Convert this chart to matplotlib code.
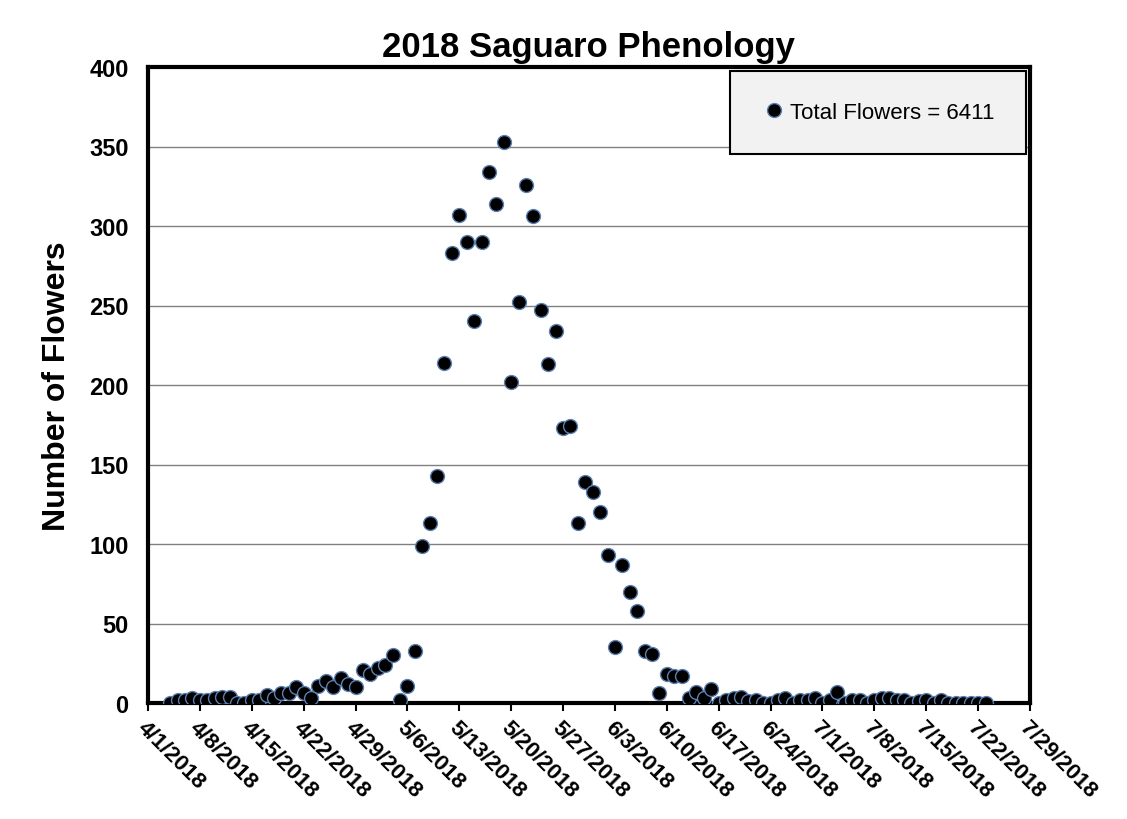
import matplotlib
matplotlib.use("Agg")
import matplotlib.pyplot as plt
import matplotlib.transforms as mtransforms
import numpy as np
import datetime as dt

# Daily flower counts, 4/4/2018 .. 7/23/2018
start_date = dt.date(2018, 4, 4)
flowers = [
    0, 2, 2, 3, 2, 2, 3, 4, 4, 0, 0, 2, 2, 5, 3, 6, 6, 10, 6, 3, 11, 14, 10, 16,
    12, 10, 21, 18, 22, 24, 30, 2, 11, 33,
    99, 113, 143, 214, 283, 307, 290, 240, 290, 334, 314, 353, 202, 252, 326, 306,
    247, 213, 234, 173, 174, 113, 139, 133, 120, 93, 35, 87, 70, 58, 33, 31,
    6, 18, 17, 17, 3, 7, 3, 9, 0, 2, 3, 4, 1, 2, 0, 0, 2, 3, 0, 2, 2, 3, 0, 2, 7,
    0, 2, 2, 0, 2, 3, 3, 2, 2, 0, 1, 2, 0, 2, 0, 0, 0, 0, 0, 0,
]
dates = [start_date + dt.timedelta(days=i) for i in range(len(flowers))]
tick_dates = [dt.date(2018, 4, 1) + dt.timedelta(days=7 * i) for i in range(18)]
legend_label = "Total Flowers = 6411"

plt.rcParams["font.family"] = "Liberation Sans"

fig = plt.figure(figsize=(11.27, 8.2), dpi=100)
ax = fig.add_axes([148 / 1127, 1 - 704 / 820, 882 / 1127, 636 / 820])

ax.plot(dates, flowers, linestyle="none", marker="o", markersize=10,
        markerfacecolor="black", markeredgecolor="#5a7fb0", markeredgewidth=1,
        label=legend_label, zorder=3)

ax.set_xlim(tick_dates[0], tick_dates[-1])
ax.set_ylim(0, 400)
ax.set_yticks(np.arange(0, 401, 50))
ax.yaxis.grid(True, color="#808080", linewidth=1)
ax.set_axisbelow(True)

ax.set_xticks(tick_dates)
ax.set_xticklabels([f"{d.month}/{d.day}/{d.year}" for d in tick_dates],
                   rotation=-45, ha="left", va="top", rotation_mode="anchor",
                   fontsize=16, fontweight="bold")
shift = mtransforms.ScaledTranslation(-12 / 100, 0, fig.dpi_scale_trans)
for lab in ax.get_xticklabels():
    lab.set_transform(lab.get_transform() + shift)
ax.tick_params(axis="x", direction="out", length=6, width=1.5, pad=4)
ax.tick_params(axis="y", length=0, labelsize=17, pad=14)
for lab in ax.get_yticklabels():
    lab.set_fontweight("bold")

for s in ax.spines.values():
    s.set_linewidth(3)
    s.set_color("black")

ax.set_ylabel("Number of Flowers", fontsize=23, fontweight="bold", labelpad=12)
ax.set_title("2018 Saguaro Phenology", fontsize=25, fontweight="bold", pad=8)

leg = ax.legend(loc="upper right", fontsize=16, frameon=True, fancybox=False,
                handletextpad=0.1, borderpad=1.4, handlelength=1.2,
                borderaxespad=0, bbox_to_anchor=(0.995, 0.994))
leg.get_frame().set_facecolor("#f2f2f2")
leg.get_frame().set_edgecolor("black")
leg.get_frame().set_linewidth(1.5)
leg.get_frame().set_alpha(1)

fig.savefig("out.png", dpi=100)
